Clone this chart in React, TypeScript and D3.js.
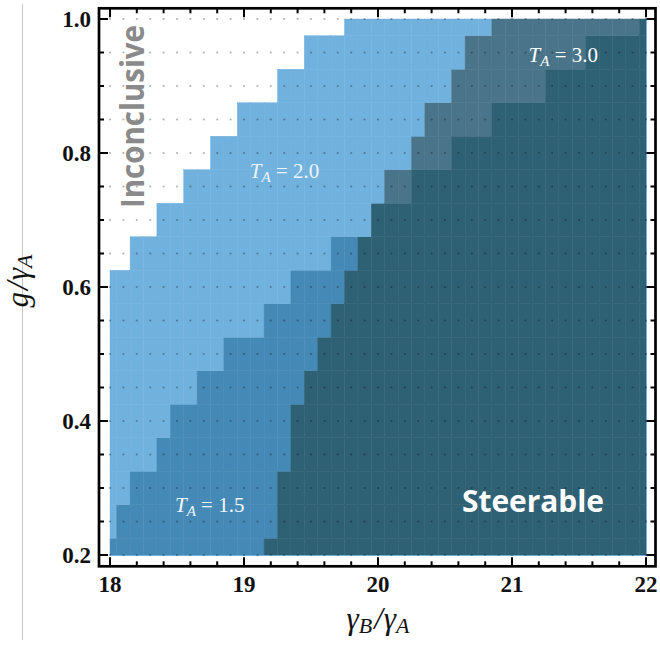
import React from "react";
import * as d3 from "d3";

// Sample rows (g / gamma_A)
const G_VALUES = [0.2, 0.25, 0.3, 0.35, 0.4, 0.45, 0.5, 0.55, 0.6, 0.65, 0.7, 0.75, 0.8, 0.85, 0.9, 0.95, 1.0];
// Onset of steerability (gamma_B/gamma_A) for each row, per temperature
const ONSET_T20 = [18.0, 18.0, 18.0, 18.0, 18.0, 18.0, 18.0, 18.0, 18.0, 18.2, 18.4, 18.6, 18.8, 19.0, 19.3, 19.5, 19.8];
const ONSET_T15 = [18.0, 18.1, 18.2, 18.4, 18.5, 18.7, 18.9, 19.2, 19.4, 19.7, 20.0, 20.3, 20.6, 20.9, 21.3, 21.6, 22.0];
const ONSET_T30 = [19.2, 19.3, 19.3, 19.4, 19.4, 19.5, 19.6, 19.7, 19.8, 19.9, 20.0, 20.1, 20.3, 20.4, 20.6, 20.7, 20.9];

const X_DOMAIN = [18, 22];
const Y_DOMAIN = [0.2, 1.0];
const X_STEP = 0.1;
const Y_STEP = 0.05;
const X_MAJOR = [18, 19, 20, 21, 22];
const Y_MAJOR = [0.2, 0.4, 0.6, 0.8, 1.0];
const Y_MAJOR_LABELS = ["0.2", "0.4", "0.6", "0.8", "1.0"];

const COLORS = {
  light: "#71b1dd",
  medium: "#4589b7",
  gray: "#4a7489",
  dark: "#2f6174",
};

export default function App() {
  const W = 660, H = 646;
  const x = d3.scaleLinear().domain(X_DOMAIN).range([110, 646]);
  const y = d3.scaleLinear().domain(Y_DOMAIN).range([555, 19]);
  const frame = { l: 99, r: 655.5, t: 8.3, b: 566.3 };

  const nx = Math.round((X_DOMAIN[1] - X_DOMAIN[0]) / X_STEP);
  const xs = d3.range(nx + 1).map((i) => +(X_DOMAIN[0] + i * X_STEP).toFixed(2));

  const cells: any[] = [];
  G_VALUES.forEach((g, ri) => {
    xs.forEach((xv) => {
      const in20 = xv >= ONSET_T20[ri] - 1e-9;
      const in15 = xv >= ONSET_T15[ri] - 1e-9;
      const in30 = xv >= ONSET_T30[ri] - 1e-9;
      let c: string | null = null;
      if (in20 && in15 && in30) c = COLORS.dark;
      else if (in20 && in15) c = COLORS.medium;
      else if (in20 && in30) c = COLORS.gray;
      else if (in20) c = COLORS.light;
      if (!c) return;
      const x0 = Math.max(X_DOMAIN[0], xv - X_STEP / 2);
      const x1 = Math.min(X_DOMAIN[1], xv + X_STEP / 2);
      const y0 = Math.max(Y_DOMAIN[0], g - Y_STEP / 2);
      const y1 = Math.min(Y_DOMAIN[1], g + Y_STEP / 2);
      cells.push(
        <rect key={`c${ri}-${xv}`} x={x(x0)} y={y(y1)} width={x(x1) - x(x0)} height={y(y0) - y(y1)} fill={c} stroke={c} strokeWidth={0.45} />
      );
    });
  });

  const dots: any[] = [];
  G_VALUES.forEach((g, ri) =>
    xs.forEach((xv) => dots.push(<circle key={`d${ri}-${xv}`} cx={x(xv)} cy={y(g)} r={1.1} fill="#000" fillOpacity={0.3} />))
  );

  const xMinor = d3.range(0, 21).map((i) => +(18 + i * 0.2).toFixed(2));
  const yMinor = d3.range(0, 17).map((i) => +(0.2 + i * 0.05).toFixed(3));
  const ticks: any[] = [];
  xMinor.forEach((v) => {
    const major = X_MAJOR.some((m) => Math.abs(m - v) < 1e-6);
    const len = major ? 9 : 5;
    ticks.push(<line key={`xb${v}`} x1={x(v)} x2={x(v)} y1={frame.b} y2={frame.b - len} stroke="#000" strokeWidth={2} />);
    ticks.push(<line key={`xt${v}`} x1={x(v)} x2={x(v)} y1={frame.t} y2={frame.t + len} stroke="#000" strokeWidth={2} />);
  });
  yMinor.forEach((v) => {
    const major = Y_MAJOR.some((m) => Math.abs(m - v) < 1e-6);
    const len = major ? 9 : 5;
    ticks.push(<line key={`yl${v}`} x1={frame.l} x2={frame.l + len} y1={y(v)} y2={y(v)} stroke="#000" strokeWidth={2} />);
    ticks.push(<line key={`yr${v}`} x1={frame.r} x2={frame.r - len} y1={y(v)} y2={y(v)} stroke="#000" strokeWidth={2} />);
  });

  const serif = "'Liberation Serif', 'DejaVu Serif', serif";
  const sans = "'Open Sans', 'DejaVu Sans', sans-serif";

  return (
    <svg width={W} height={H} style={{ position: "absolute", left: 0, top: 0 }}>
      <rect x={0} y={0} width={W} height={H} fill="#fff" />
      <line x1={22.5} x2={22.5} y1={4} y2={640} stroke="#c8c8c8" strokeWidth={1} />
      <g>{cells}</g>
      <line x1={x(22) + 0.5} x2={x(22) + 0.5} y1={y(1.0)} y2={y(0.2) + 1} stroke={COLORS.light} strokeWidth={1} />
      <line x1={x(18)} x2={x(22) + 1} y1={y(0.2) + 0.5} y2={y(0.2) + 0.5} stroke={COLORS.light} strokeWidth={1} />
      <g>{dots}</g>
      <rect x={frame.l} y={frame.t} width={frame.r - frame.l} height={frame.b - frame.t} fill="none" stroke="#000" strokeWidth={2.7} />
      <g>{ticks}</g>
      {X_MAJOR.map((v) => (
        <text key={`xl${v}`} x={x(v)} y={592} textAnchor="middle" fontFamily={serif} fontWeight="bold" fontSize={23} fill="#111">{v}</text>
      ))}
      {Y_MAJOR.map((v, i) => (
        <text key={`yl${v}`} x={91} y={y(v)} dy="0.35em" textAnchor="end" fontFamily={serif} fontWeight="bold" fontSize={23} fill="#111">{Y_MAJOR_LABELS[i]}</text>
      ))}
      <text x={378} y={629} textAnchor="middle" fontFamily={serif} fontStyle="italic" fontSize={31} fill="#111">
        γ<tspan fontSize={22} dy={4}>B</tspan><tspan dy={-4} dx={2}>/</tspan><tspan dx={1}>γ</tspan><tspan fontSize={22} dy={4}>A</tspan>
      </text>
      <text transform="translate(28,281) rotate(-90)" textAnchor="middle" fontFamily={serif} fontStyle="italic" fontSize={31} fill="#111">
        g<tspan dx={2}>/</tspan><tspan dx={1}>γ</tspan><tspan fontSize={22} dy={4}>A</tspan>
      </text>
      <text transform="translate(144,116.5) rotate(-90)" textAnchor="middle" fontFamily={sans} fontWeight="bold" fontSize={32} fill="#8a8a8a" textLength={183} lengthAdjust="spacingAndGlyphs">Inconclusive</text>
      <text x={533} y={511.7} textAnchor="middle" fontFamily={sans} fontWeight="bold" fontSize={31} fill="#fff" textLength={142} lengthAdjust="spacingAndGlyphs">Steerable</text>
      <text x={284.5} y={178.3} textAnchor="middle" fontFamily={serif} fontSize={21} fill="#eef4fa">
        <tspan fontStyle="italic">T</tspan><tspan fontStyle="italic" fontSize={15} dy={4}>A</tspan><tspan dy={-4}> = 2.0</tspan>
      </text>
      <text x={563.3} y={62.3} textAnchor="middle" fontFamily={serif} fontSize={21} fill="#ffffff">
        <tspan fontStyle="italic">T</tspan><tspan fontStyle="italic" fontSize={15} dy={4}>A</tspan><tspan dy={-4}> = 3.0</tspan>
      </text>
      <text x={209.7} y={511.7} textAnchor="middle" fontFamily={serif} fontSize={21} fill="#f4f8fc">
        <tspan fontStyle="italic">T</tspan><tspan fontStyle="italic" fontSize={15} dy={4}>A</tspan><tspan dy={-4}> = 1.5</tspan>
      </text>
    </svg>
  );
}
